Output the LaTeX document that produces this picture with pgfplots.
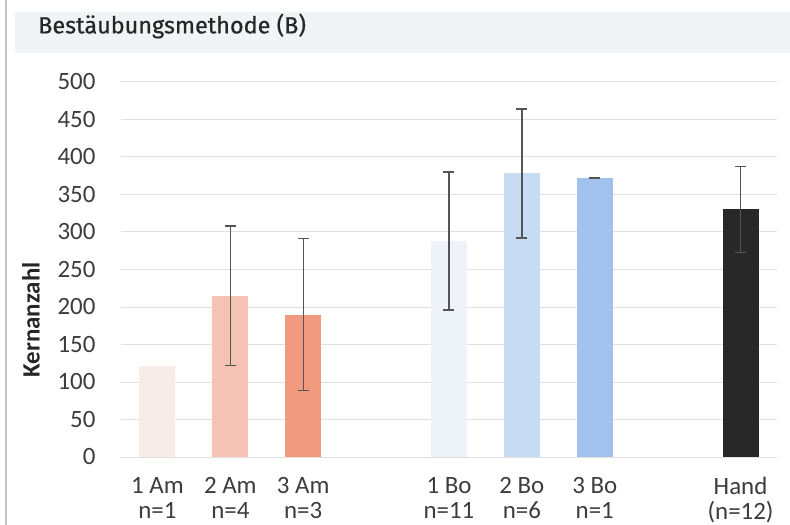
\documentclass[border=0pt]{standalone}
\usepackage{pgfplots}
\pgfplotsset{compat=1.18}
\usepackage{fontspec}
\setmainfont{Carlito}
\newfontfamily\titlefont{Fira Sans}[FakeBold=0.6]
\definecolor{titlebg}{HTML}{F1F3F6}
\definecolor{leftline}{HTML}{C4C4C4}
\definecolor{txt}{HTML}{3C3C3C}
\definecolor{gridc}{HTML}{E0E0E0}
\definecolor{errc}{HTML}{555555}
\definecolor{amA}{HTML}{F8ECE8}
\definecolor{amB}{HTML}{F5C3B3}
\definecolor{amC}{HTML}{F19A80}
\definecolor{boA}{HTML}{EEF3F9}
\definecolor{boB}{HTML}{C7DBF2}
\definecolor{boC}{HTML}{A0C2EC}
\definecolor{hand}{HTML}{282828}
\begin{document}
\begin{tikzpicture}
% axis box lower-left corner at (0,0); picture spans (-121bp,-68bp) to (669bp,457bp)
\fill[titlebg] (-106bp,404bp) rectangle (669bp,445bp);
\draw[leftline, line width=1.5bp] (-115bp,-68bp) -- (-115bp,457bp);
\node[anchor=west, inner sep=0pt, text=black!85, font=\titlefont\fontsize{23.5}{26}\selectfont] at (-83bp,431bp) {Bestäubungsmethode (B)};
\node[rotate=90, text=black!85, font=\bfseries\fontsize{25}{28}\selectfont] at (-90bp,137bp) {Kernanzahl};
\begin{axis}[
  at={(0bp,0bp)}, anchor=south west,
  scale only axis, width=656bp, height=375bp,
  xmin=-0.5, xmax=8.5, ymin=0, ymax=500,
  ytick={0,50,...,500},
  xtick={0,1,2,4,5,6,8},
  xticklabels={{1 Am\\n=1},{2 Am\\n=4},{3 Am\\n=3},{1 Bo\\n=11},{2 Bo\\n=6},{3 Bo\\n=1},{Hand\\(n=12)}},
  xticklabel style={align=center, text=txt, font=\fontsize{25}{25}\selectfont, yshift=-17bp},
  yticklabel style={text=txt, font=\fontsize{25}{28}\selectfont, /pgf/number format/assume math mode=true, xshift=-22bp},
  axis line style={draw=none},
  major tick length=0pt,
  ymajorgrids, grid style={gridc, line width=1bp},
  error bars/error bar style={errc, line width=1.3bp},
  error bars/error mark options={rotate=90, mark size=5.5bp, line width=1.3bp, errc},
]
\addplot[ybar, bar width=36bp, fill=amA, draw=none] coordinates {(0,121)};
\addplot[ybar, bar width=36bp, fill=amB, draw=none, error bars/.cd, y dir=both, y explicit] coordinates {(1,215) +- (0,93)};
\addplot[ybar, bar width=36bp, fill=amC, draw=none, error bars/.cd, y dir=both, y explicit] coordinates {(2,190) +- (0,101)};
\addplot[ybar, bar width=36bp, fill=boA, draw=none, error bars/.cd, y dir=both, y explicit] coordinates {(4,288) +- (0,92)};
\addplot[ybar, bar width=36bp, fill=boB, draw=none, error bars/.cd, y dir=both, y explicit] coordinates {(5,378) +- (0,86)};
\addplot[ybar, bar width=36bp, fill=boC, draw=none, error bars/.cd, y dir=both, y explicit] coordinates {(6,372) +- (0,0.5)};
\addplot[ybar, bar width=36bp, fill=hand, draw=none, error bars/.cd, y dir=both, y explicit] coordinates {(8,330) +- (0,57)};
\end{axis}
\pgfresetboundingbox
\useasboundingbox (-121bp,-68bp) rectangle (669bp,457bp);
\end{tikzpicture}
\end{document}
